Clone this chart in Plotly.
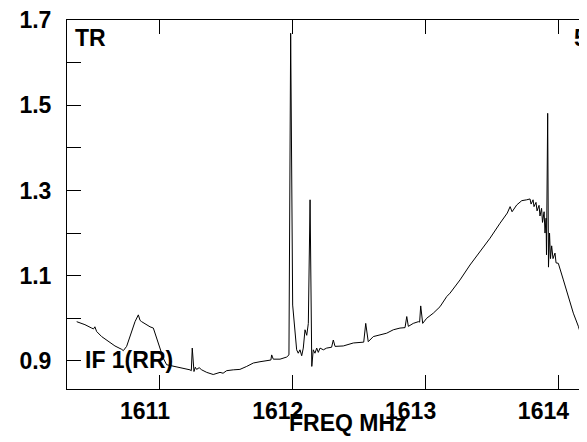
import plotly.graph_objects as go

# Spectrum (FREQ MHz vs. intensity)
freq_mhz = [
    1610.373, 1610.435, 1610.486, 1610.500, 1610.510, 1610.523, 1610.561, 1610.611,
    1610.661, 1610.712, 1610.724, 1610.749, 1610.787, 1610.812, 1610.837, 1610.850,
    1610.862, 1610.887, 1610.925, 1610.950, 1610.987, 1611.025, 1611.050, 1611.113,
    1611.163, 1611.226, 1611.236, 1611.243, 1611.256, 1611.266, 1611.276, 1611.295,
    1611.314, 1611.352, 1611.401, 1611.452, 1611.475, 1611.502, 1611.552, 1611.602,
    1611.653, 1611.703, 1611.753, 1611.803, 1611.835, 1611.841, 1611.853, 1611.904,
    1611.954, 1611.971, 1611.984, 1611.999, 1612.017, 1612.029, 1612.041, 1612.054,
    1612.067, 1612.079, 1612.092, 1612.105, 1612.117, 1612.130, 1612.143, 1612.154,
    1612.167, 1612.180, 1612.192, 1612.205, 1612.230, 1612.255, 1612.292, 1612.305,
    1612.318, 1612.380, 1612.456, 1612.534, 1612.549, 1612.568, 1612.606, 1612.657,
    1612.707, 1612.757, 1612.807, 1612.845, 1612.858, 1612.870, 1612.907, 1612.945,
    1612.955, 1612.963, 1612.978, 1613.008, 1613.058, 1613.108, 1613.159, 1613.184,
    1613.259, 1613.334, 1613.410, 1613.485, 1613.560, 1613.615, 1613.636, 1613.651,
    1613.686, 1613.724, 1613.761, 1613.786, 1613.794, 1613.809, 1613.816, 1613.831,
    1613.839, 1613.854, 1613.861, 1613.873, 1613.880, 1613.892, 1613.899, 1613.907,
    1613.910, 1613.919, 1613.925, 1613.933, 1613.940, 1613.949, 1613.959, 1613.974,
    1613.982, 1613.999, 1614.037, 1614.075, 1614.112, 1614.150, 1614.181, 1614.213,
    1614.253,
]
intensity = [
    0.992, 0.985, 0.977, 0.975, 0.980, 0.969, 0.957, 0.945,
    0.935, 0.927, 0.924, 0.934, 0.969, 0.992, 1.008, 0.995,
    0.992, 0.987, 0.980, 0.977, 0.942, 0.906, 0.891, 0.887,
    0.883, 0.879, 0.877, 0.930, 0.875, 0.885, 0.880, 0.884,
    0.879, 0.873, 0.868, 0.873, 0.871, 0.877, 0.879, 0.880,
    0.887, 0.895, 0.898, 0.901, 0.902, 0.914, 0.904, 0.904,
    0.909, 0.914, 1.669, 1.031, 0.965, 0.926, 0.918, 0.926,
    0.912, 0.930, 0.973, 0.960, 0.988, 1.278, 0.887, 0.926,
    0.918, 0.930, 0.920, 0.930, 0.926, 0.930, 0.932, 0.949,
    0.934, 0.935, 0.942, 0.944, 0.988, 0.945, 0.957, 0.961,
    0.965, 0.973, 0.977, 0.978, 1.004, 0.981, 0.988, 0.992,
    0.991, 1.029, 0.988, 1.000, 1.012, 1.027, 1.051, 1.059,
    1.090, 1.125, 1.157, 1.188, 1.223, 1.247, 1.262, 1.250,
    1.266, 1.276, 1.278, 1.280, 1.268, 1.278, 1.262, 1.272,
    1.252, 1.265, 1.240, 1.258, 1.225, 1.250, 1.200, 1.235,
    1.149, 1.481, 1.120, 1.200, 1.140, 1.170, 1.140, 1.153,
    1.130, 1.129, 1.090, 1.051, 1.012, 0.981, 0.949, 0.926,
    0.900,
]

x_ticks = [1611, 1612, 1613, 1614]
y_ticks = [0.9, 1.0, 1.1, 1.2, 1.3, 1.4, 1.5, 1.6, 1.7]
y_tick_text = ["0.9", "", "1.1", "", "1.3", "", "1.5", "", "1.7"]

FONT = "Liberation Sans, Arial, sans-serif"
BOLD = dict(family=FONT, size=23, color="black", weight="bold")

fig = go.Figure()
fig.add_trace(go.Scatter(
    x=freq_mhz, y=intensity, mode="lines",
    line=dict(color="black", width=1),
    showlegend=False, hoverinfo="skip",
))

fig.update_layout(
    width=587, height=442,
    # page body adds an 8px offset; margins compensate so the frame sits where the reference has it
    margin=dict(l=59, r=8, t=12, b=61, autoexpand=False),
    paper_bgcolor="white", plot_bgcolor="white",
    font=dict(family=FONT, color="black", size=23),
    xaxis=dict(
        range=[1610.300, 1614.215],
        tickvals=x_ticks, ticktext=[str(v) for v in x_ticks],
        ticks="inside", ticklen=14, tickwidth=1, tickcolor="black",
        showline=True, linecolor="black", linewidth=1, mirror="ticks",
        showgrid=False, zeroline=False,
        ticklabelstandoff=1, ticklabelshift=-15,
        ticklabeloverflow="allow",
        tickfont=BOLD,
    ),
    yaxis=dict(
        range=[0.834, 1.7],
        tickvals=y_ticks, ticktext=y_tick_text,
        ticks="inside", ticklen=14, tickwidth=1, tickcolor="black",
        showline=True, linecolor="black", linewidth=1,
        showgrid=False, zeroline=False,
        ticklabelstandoff=10,
        ticklabeloverflow="allow",
        tickfont=BOLD,
    ),
    annotations=[
        dict(text="TR", xref="paper", yref="paper", x=0.0115, y=0.950,
             xanchor="left", yanchor="middle", showarrow=False, font=BOLD),
        dict(text="5", xref="paper", yref="paper", x=0.971, y=0.950,
             xanchor="left", yanchor="middle", showarrow=False, font=BOLD),
        dict(text="IF 1(RR)", xref="paper", yref="paper", x=0.031, y=0.0786,
             xanchor="left", yanchor="middle", showarrow=False, font=BOLD),
        dict(text="FREQ MHz", xref="paper", yref="paper", x=0.540, y=-0.092,
             xanchor="center", yanchor="middle", showarrow=False, font=BOLD),
    ],
)

fig.write_html("out.html")
